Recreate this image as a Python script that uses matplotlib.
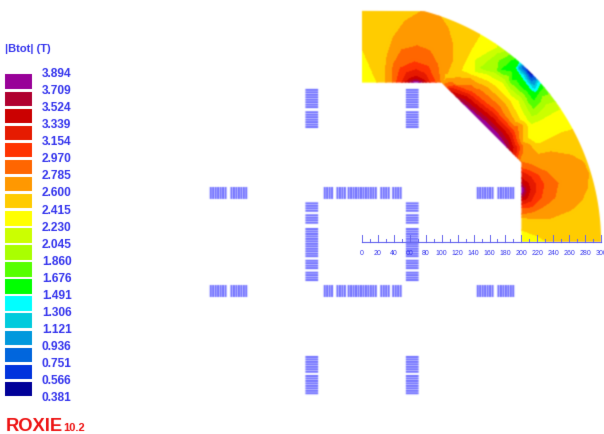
"""
ROXIE coil cross-section: |Btot| in the iron yoke sector, with conductors and mm ruler.
"""

import numpy as np
import matplotlib
matplotlib.use("Agg")
import matplotlib.pyplot as plt
from matplotlib.collections import PatchCollection
from matplotlib.patches import Polygon, Rectangle
from matplotlib.tri import Triangulation

plt.rcParams["font.family"] = ["Liberation Sans", "DejaVu Sans"]

# ── Legend ────────────────────────────────────────────────────────────
LEVELS = [0.381, 0.566, 0.751, 0.936, 1.121, 1.306, 1.491, 1.676, 1.860, 2.045,
          2.230, 2.415, 2.600, 2.785, 2.970, 3.154, 3.339, 3.524, 3.709, 3.894]
LEVEL_LABELS = ["0.381", "0.566", "0.751", "0.936", "1.121", "1.306", "1.491",
                "1.676", "1.860", "2.045", "2.230", "2.415", "2.600", "2.785",
                "2.970", "3.154", "3.339", "3.524", "3.709", "3.894"]
BAND_COLORS = ["#000099", "#0033dd", "#0066dd", "#0099dd", "#00ccdd", "#00ffff",
               "#00ff00", "#55ff00", "#aaff00", "#ccff00", "#ffff00", "#ffcc00",
               "#ff9900", "#ff6600", "#ff3300", "#e61a00", "#cc0000", "#b00030",
               "#990099"]

# ── Field samples: points on each band edge (mm) ─
ISO_0566 = [(206, 216), (212, 209)]
ISO_0751 = [(203, 219), (209, 209), (215, 206)]
ISO_0936 = [(200, 221), (205, 212), (212, 201), (218, 203)]
ISO_1121 = [(196, 218), (207, 204), (216, 195)]
ISO_1306 = [(195, 220), (203, 208), (211, 196), (217, 191), (221, 199)]
ISO_1491 = [(192, 218), (196, 224), (200, 206), (211, 191), (217, 187), (223, 195)]
ISO_1676 = [(173, 216), (186, 228), (192, 230), (188, 203), (211, 182), (216, 176),
            (223, 187), (228, 193)]
ISO_1860 = [(158, 218), (171, 228), (186, 237), (186, 199), (207, 176), (215, 166),
            (227, 182), (233, 184)]
ISO_2045 = [(146, 218), (169, 237), (179, 240), (164, 213), (179, 203), (202, 176),
            (213, 157), (232, 172), (243, 176)]
ISO_2230 = [(141, 218), (161, 241), (169, 245), (141, 213), (158, 209), (176, 199),
            (196, 176), (207, 153), (213, 147), (226, 153), (246, 172), (249, 166)]
ISO_2415 = [(0, 243), (8, 225), (19, 200),
            (148, 260), (136, 240), (124, 215), (146, 206), (167, 195), (186, 176),
            (198, 153), (208, 130), (217, 124), (225, 124), (250, 137), (265, 141),
            (200, 15), (220, 8), (233, 0)]
ISO_2600 = [(30, 200), (31, 231), (39, 256), (54, 277), (77, 289), (98, 283),
            (108, 268), (114, 247), (113, 227), (107, 212), (100, 200),
            (107, 205), (135, 205), (155, 195), (180, 172), (192, 150), (202, 125),
            (204, 105), (221, 110), (237, 113), (262, 109), (278, 100), (284, 86),
            (283, 69), (276, 53), (262, 40), (237, 30), (217, 29), (200, 31)]
ISO_2785 = [(38, 200), (39, 222), (50, 241), (69, 246), (85, 240), (95, 222), (98, 200),
            (117, 197), (142, 192), (171, 171), (195, 145), (201, 121),
            (200, 100), (212, 97), (233, 87), (246, 74), (242, 56), (230, 46),
            (215, 38), (200, 35)]
ISO_2970 = [(43, 200), (48, 218), (66, 226), (83, 220), (92, 200),
            (116, 196), (138, 188), (166, 166), (190, 140), (198, 118),
            (200, 92), (208, 90), (221, 84), (228, 72), (225, 56), (215, 46), (200, 43)]
ISO_3154 = [(50, 200), (56, 212), (68, 216), (79, 211), (85, 200),
            (200, 88), (211, 82), (218, 72), (217, 61), (208, 50), (200, 47)]
ISO_3339 = [(54, 200), (60, 205), (68, 208), (76, 204), (80, 200),
            (200, 80), (208, 74), (211, 66), (208, 57), (200, 52)]
ISO_3524 = [(58, 200), (68, 204), (76, 200),
            (200, 74), (205, 68), (206, 63), (203, 58), (200, 56)]
ISO_3709 = [(62, 200), (68, 202), (73, 200), (200, 70), (203, 65), (200, 59)]

# other samples: pole peaks, the chamfer edge, the amber gap and the outer rim
OTHER_X = [68, 200, 210, 105,
           105, 110, 125, 150, 165, 180, 190, 197,
           0, 0, 30, 77, 85, 100, 115, 148, 170, 180, 187, 193, 197, 200, 204, 208,
           213, 219, 223, 226, 230, 235, 245, 252, 268, 280, 285, 294, 299, 302,
           270, 200]
OTHER_Y = [200, 66, 213, 207,
           195, 190, 175, 150, 135, 120, 110, 103,
           200, 291, 291, 291, 290, 285, 280, 263, 248, 242, 238, 232, 228, 224, 222, 220,
           214, 208, 204, 201, 195, 187, 175, 168, 143, 115, 100, 70, 35, 0,
           0, 0]
OTHER_B = [3.88, 3.88, 0.42, 2.55,
           2.90, 3.30, 3.72, 3.85, 3.88, 3.75, 3.30, 2.80,
           2.30, 2.50, 2.55, 2.60, 2.62, 2.58, 2.50, 2.415, 2.23, 2.045, 1.86, 1.676, 1.49, 1.30, 0.936, 0.70,
           0.42, 0.70, 1.12, 1.49, 1.676, 1.86, 2.045, 2.23, 2.415, 2.50, 2.50, 2.50, 2.50, 2.50,
           2.50, 2.33]

# ── Conductor blocks (start, end in mm) ───────────────────────────────
STACK_X = [55, 71]
STACK_BLOCKS = [(143, 164), (168, 191), (38, 49), (23, 34), (-19, 19),
                (-34, -21), (-49, -38), (-164, -143), (-191, -168)]
ROW_Y = [54, 69]
ROW_BLOCKS = [(-48, -35), (-32, -20), (-18, 19), (23, 34), (38, 50),
              (144, 165), (170, 191), (-191, -170), (-165, -144)]
CABLE_PITCH = 3.1
CABLE_THICK = 2.4

# ── Ruler ─────────────────────────────────────────────────────────────
RULER_TICKS = list(range(0, 301, 10))
RULER_LABELS = list(range(0, 301, 20))

BLUE = "#3333ee"
PX_PER_MM = 0.797
X0_PX, Y0_PX = 362, 242
W, H = 604, 434


def soften(img, dpi, sigma=0.7):
    # reference is a resampled bitmap, so every mark is slightly out of focus
    pad = 4
    out = np.pad(img, ((pad, pad), (pad, pad), (0, 0)))
    alpha = out[..., 3:].copy()
    out[..., :3] *= alpha  # blur premultiplied, or transparent black bleeds into the edges
    k = np.exp(-0.5 * (np.arange(-3, 4) / sigma) ** 2)
    k /= k.sum()
    for axis in (0, 1):
        out = np.apply_along_axis(lambda m: np.convolve(m, k, mode="same"), axis, out)
    alpha = out[..., 3:]
    out[..., :3] = np.divide(out[..., :3], alpha, out=np.zeros_like(out[..., :3]), where=alpha > 1e-4)
    return np.clip(out, 0, 1), -pad, -pad


def soft_small(img, dpi):
    return soften(img, dpi, 0.45)


def soft_coil(img, dpi):
    return soften(img, dpi, 0.65)


fig = plt.figure(figsize=(W / 100, H / 100), dpi=100, facecolor="white")
ax = fig.add_axes([0, 0, 1, 1])
ax.set_xlim(-X0_PX / PX_PER_MM, (W - X0_PX) / PX_PER_MM)
ax.set_ylim((Y0_PX - H) / PX_PER_MM, Y0_PX / PX_PER_MM)
ax.axis("off")

# ── Field map, clipped to the yoke sector ─────────────────────────────
iso_sets = [(0.566, ISO_0566), (0.751, ISO_0751), (0.936, ISO_0936), (1.121, ISO_1121),
            (1.306, ISO_1306), (1.491, ISO_1491), (1.676, ISO_1676), (1.860, ISO_1860),
            (2.045, ISO_2045), (2.230, ISO_2230), (2.415, ISO_2415), (2.600, ISO_2600),
            (2.785, ISO_2785), (2.970, ISO_2970), (3.154, ISO_3154), (3.339, ISO_3339),
            (3.524, ISO_3524), (3.709, ISO_3709)]
field_x = list(OTHER_X)
field_y = list(OTHER_Y)
field_b = list(OTHER_B)
for level, pts in iso_sets:
    for x, y in pts:
        field_x.append(x)
        field_y.append(y)
        field_b.append(level)

arc_t = np.linspace(np.arcsin(78 / 300), np.pi / 2, 80)
outline = np.vstack([[[0, 200], [0, 290]],
                     np.column_stack([300 * np.sin(arc_t), 300 * np.cos(arc_t)]),
                     [[200, 0], [200, 100], [100, 200]]])
sector = Polygon(outline, closed=True, transform=ax.transData, fc="none", ec="none")
ax.add_patch(sector)
tri = Triangulation(field_x, field_y)
cf = ax.tricontourf(tri, field_b, levels=LEVELS, colors=BAND_COLORS)
cf.set_clip_path(sector)
cf.set_agg_filter(soften)

# ── Conductors ────────────────────────────────────────────────────────
cables = []
for sign in (-1, 1):
    x_left = min(sign * STACK_X[0], sign * STACK_X[1])
    for lo, hi in STACK_BLOCKS:
        for y in np.arange(lo, hi - 1, CABLE_PITCH):
            cables.append(Rectangle((x_left, y), STACK_X[1] - STACK_X[0], CABLE_THICK))
    y_low = min(sign * ROW_Y[0], sign * ROW_Y[1])
    for lo, hi in ROW_BLOCKS:
        for x in np.arange(lo, hi - 1, CABLE_PITCH):
            cables.append(Rectangle((x, y_low), CABLE_THICK, ROW_Y[1] - ROW_Y[0]))
coil = PatchCollection(cables, facecolor="#6a6aff", edgecolor="none", snap=False)
coil.set_agg_filter(soft_coil)
ax.add_collection(coil)

# ── Ruler ─────────────────────────────────────────────────────────────
ruler = [ax.plot([RULER_TICKS[0], RULER_TICKS[-1]], [0, 0], color="#6666ee", lw=0.8)[0]]
for t in RULER_TICKS:
    ruler += ax.plot([t, t], [0, 9 if t % 20 == 0 else 4], color="#6666ee", lw=0.7)
for line in ruler:
    line.set_agg_filter(soft_small)
for t in RULER_LABELS:
    ax.text(t, -14, str(t), color=BLUE, fontsize=5, ha="center", va="center",
            agg_filter=soft_small)

# ── Legend, placed in pixels ──────────────────────────────────────────
def px(x, y):
    return x / W, 1 - y / H


pitch = 17.07
for i, color in enumerate(BAND_COLORS[::-1]):
    top = 74.5 + i * pitch
    x_f, y_f = px(4.5, top + 14.5)
    swatch = Rectangle((x_f, y_f), 27.5 / W, 14.5 / H, transform=fig.transFigure,
                       fc=color, ec="none")
    swatch.set_agg_filter(soft_small)
    fig.add_artist(swatch)
for i, label in enumerate(LEVEL_LABELS[::-1]):
    x_f, y_f = px(42, 74 + i * pitch)
    fig.text(x_f, y_f, label, color=BLUE, fontsize=8.6, fontweight="bold", va="center",
             agg_filter=soft_small)

x_f, y_f = px(5, 49)
fig.text(x_f, y_f, "|Btot| (T)", color=BLUE, fontsize=8, fontweight="bold", va="center",
         agg_filter=soft_small)
x_f, y_f = px(5.5, 431)
fig.text(x_f, y_f, "ROXIE", color="#ee1111", fontsize=13.2, fontweight="bold", va="baseline",
         agg_filter=soft_small)
x_f, y_f = px(63.5, 431)
fig.text(x_f, y_f, "10.2", color="#ee1111", fontsize=8, fontweight="bold", va="baseline",
         agg_filter=soft_small)

fig.savefig("out.png", dpi=100, facecolor="white")
